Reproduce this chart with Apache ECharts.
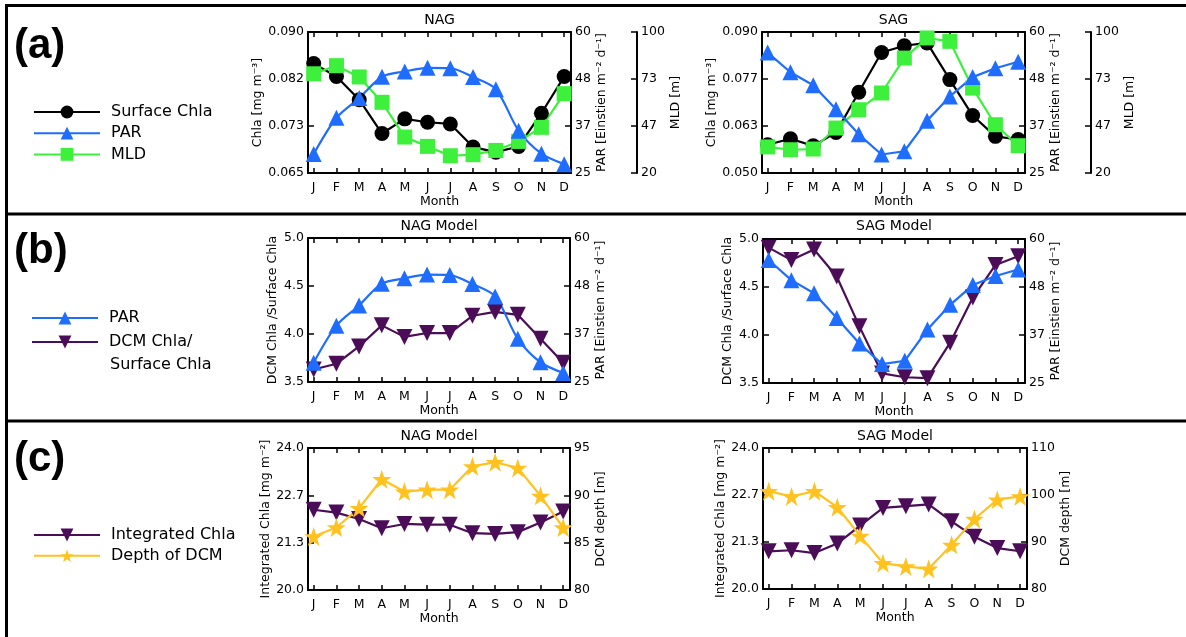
<!DOCTYPE html>
<html><head><meta charset="utf-8">
<script src="https://cdn.jsdelivr.net/npm/echarts@6/dist/echarts.min.js"></script>
<style>html,body{margin:0;padding:0;background:#fff;}#c{width:1186px;height:637px;}</style>
</head><body><div id="c"></div>
<script>
// ---------- data ----------
const months = ['J','F','M','A','M','J','J','A','S','O','N','D'];

const nagSurfaceChla = [0.0844,0.0821,0.0780,0.0720,0.0746,0.0740,0.0737,0.0696,0.0687,0.0697,0.0756,0.0821];
const nagPAR         = [29.7,38.7,43.6,48.9,50.2,51.1,51.0,48.8,45.8,35.5,29.8,27.2];
const nagMLD         = [76.3,80.9,74.5,60.1,40.4,35.1,29.8,30.4,32.8,37.9,45.9,65.0];
const sagSurfaceChla = [0.0580,0.0597,0.0577,0.0615,0.0729,0.0842,0.0861,0.0869,0.0765,0.0663,0.0604,0.0595];
const sagPAR         = [54.9,50.0,46.8,40.8,34.6,29.6,30.4,38.0,44.0,48.8,51.0,52.6];
const sagMLD         = [34.8,33.2,33.6,45.5,55.9,65.4,85.2,96.6,94.7,68.2,47.4,35.5];
const nagRatio       = [3.63,3.69,3.87,4.09,3.97,4.01,4.01,4.19,4.23,4.20,3.95,3.70];
const sagRatio       = [4.91,4.78,4.89,4.61,4.09,3.60,3.56,3.55,3.92,4.39,4.73,4.82];
const nagIntChla     = [22.26,22.18,22.00,21.74,21.86,21.84,21.84,21.60,21.58,21.63,21.90,22.21];
const nagDepth       = [85.65,86.6,88.65,91.7,90.4,90.6,90.6,93.06,93.5,92.9,89.95,86.6];
const sagIntChla     = [21.07,21.10,21.02,21.29,21.80,22.30,22.35,22.40,21.92,21.48,21.16,21.07];
const sagDepth       = [100.8,99.7,100.8,97.4,91.3,85.5,84.8,84.3,89.4,94.9,99.0,99.7];

// tick values (labels are these rounded)
const chlaNAGTicks  = [0.065, 0.07333, 0.08167, 0.090];
const chlaSAGTicks  = [0.050, 0.06333, 0.07667, 0.090];
const parTicks      = [25, 36.67, 48.33, 60];
const mldTicks      = [20, 46.67, 73.33, 100];
const ratioTicks    = [3.5, 4.0, 4.5, 5.0];
const intChlaTicks  = [20, 21.333, 22.667, 24];
const depthNAGTicks = [80, 85, 90, 95];
const depthSAGTicks = [80, 90, 100, 110];

// ---------- styles ----------
const FONT = 'DejaVu Sans';
const BLACK = '#000000', BLUE = '#1f6dff', GREEN = '#3cf03c', PURPLE = '#4b0c58', GOLD = '#ffc21f';
const STAR = 'path://M50,0L61.8,35.1L98.1,35.1L68.8,56.7L79.4,91L50,70L20.6,91L31.2,56.7L1.9,35.1L38.2,35.1Z';
const monthPos = months.map((m, i) => i + 1);
const TICKFONT = {color:BLACK, fontFamily:FONT, fontSize:12.5, fontWeight:500};

const grids = [
  {left:308, top:32,  width:263, height:141},
  {left:762, top:32,  width:263, height:141},
  {left:308, top:238, width:262, height:144},
  {left:763, top:239, width:262, height:144},
  {left:308, top:448, width:262, height:142},
  {left:763, top:448, width:264, height:141}
].map(g => Object.assign({show:false, containLabel:false, outerBoundsMode:'none'}, g));

const xAxis = [];
grids.forEach((g, gi) => {
  const common = {type:'value', gridIndex:gi, min:0.75, max:12.3, splitLine:{show:false},
    axisLine:{show:true, onZero:false, lineStyle:{color:BLACK, width:2}},
    axisTick:{show:true, inside:true, length:5, customValues:monthPos, lineStyle:{color:BLACK, width:1.5}}};
  xAxis.push(Object.assign({}, common, {position:'bottom',
    axisLabel:Object.assign({show:true, customValues:monthPos, formatter:v => months[Math.round(v) - 1], margin:8}, TICKFONT),
    name:'Month', nameLocation:'middle', nameGap:21,
    nameTextStyle:{color:BLACK, fontFamily:FONT, fontSize:12.5}}));
  xAxis.push(Object.assign({}, common, {position:'top', axisLabel:{show:false}}));
});

const yAxis = [];
function yAx(gi, pos, ticks, dec, name, nameGap, offset) {
  yAxis.push({type:'value', gridIndex:gi, position:pos, offset:offset || 0,
    min:ticks[0], max:ticks[ticks.length - 1], splitLine:{show:false},
    axisLine:{show:true, onZero:false, lineStyle:{color:BLACK, width:2}},
    axisTick:{show:true, inside:true, length:6, customValues:ticks, lineStyle:{color:BLACK, width:1.5}},
    axisLabel:Object.assign({show:true, customValues:ticks, formatter:v => Number(v).toFixed(dec), margin:4}, TICKFONT),
    name:name, nameLocation:'middle', nameRotate:90, nameGap:nameGap,
    nameTextStyle:{color:BLACK, fontFamily:FONT, fontSize:12.5}});
  return yAxis.length - 1;
}

const series = [];
function ser(name, gi, yi, data, color, symbol, size, extra) {
  series.push(Object.assign({
    type:'line', name:name, xAxisIndex:gi * 2, yAxisIndex:yi,
    data:data.map((v, i) => [i + 1, v]),
    symbol:symbol, symbolSize:size, showAllSymbol:true,
    lineStyle:{color:color, width:2.2}, itemStyle:{color:color, borderWidth:0},
    animation:false, silent:true
  }, extra || {}));
}

// (a) NAG
let y0 = yAx(0, 'left', chlaNAGTicks, 3, 'Chla [mg m⁻³]', 44);
let y1 = yAx(0, 'right', parTicks, 0, 'PAR [Einstien m⁻² d⁻¹]', 20);
let y2 = yAx(0, 'right', mldTicks, 0, 'MLD [m]', 30, 66);
ser('Surface Chla', 0, y0, nagSurfaceChla, BLACK, 'circle', 15);
ser('MLD', 0, y2, nagMLD, GREEN, 'rect', 15);
ser('PAR', 0, y1, nagPAR, BLUE, 'triangle', 16, {smooth:0.3});
// (a) SAG
y0 = yAx(1, 'left', chlaSAGTicks, 3, 'Chla [mg m⁻³]', 44);
y1 = yAx(1, 'right', parTicks, 0, 'PAR [Einstien m⁻² d⁻¹]', 20);
y2 = yAx(1, 'right', mldTicks, 0, 'MLD [m]', 30, 66);
ser('Surface Chla', 1, y0, sagSurfaceChla, BLACK, 'circle', 15);
ser('MLD', 1, y2, sagMLD, GREEN, 'rect', 15);
ser('PAR', 1, y1, sagPAR, BLUE, 'triangle', 16);
// (b) NAG
y0 = yAx(2, 'left', ratioTicks, 1, 'DCM Chla /Surface Chla', 29);
y1 = yAx(2, 'right', parTicks, 0, 'PAR [Einstien m⁻² d⁻¹]', 20);
ser('DCM Chla/Surface Chla', 2, y0, nagRatio, PURPLE, 'triangle', 16, {symbolRotate:180});
ser('PAR', 2, y1, nagPAR, BLUE, 'triangle', 16, {smooth:0.3});
// (b) SAG
y0 = yAx(3, 'left', ratioTicks, 1, 'DCM Chla /Surface Chla', 29);
y1 = yAx(3, 'right', parTicks, 0, 'PAR [Einstien m⁻² d⁻¹]', 20);
ser('DCM Chla/Surface Chla', 3, y0, sagRatio, PURPLE, 'triangle', 16, {symbolRotate:180});
ser('PAR', 3, y1, sagPAR, BLUE, 'triangle', 16);
// (c) NAG
y0 = yAx(4, 'left', intChlaTicks, 1, 'Integrated Chla [mg m⁻²]', 36);
y1 = yAx(4, 'right', depthNAGTicks, 0, 'DCM depth [m]', 21);
ser('Integrated Chla', 4, y0, nagIntChla, PURPLE, 'triangle', 16, {symbolRotate:180});
ser('Depth of DCM', 4, y1, nagDepth, GOLD, STAR, 19);
// (c) SAG
y0 = yAx(5, 'left', intChlaTicks, 1, 'Integrated Chla [mg m⁻²]', 36);
y1 = yAx(5, 'right', depthSAGTicks, 0, 'DCM depth [m]', 29);
ser('Integrated Chla', 5, y0, sagIntChla, PURPLE, 'triangle', 16, {symbolRotate:180});
ser('Depth of DCM', 5, y1, sagDepth, GOLD, STAR, 19);

const legText = {color:BLACK, fontFamily:FONT, fontSize:16, lineHeight:16, padding:[0,0,0,6]};
function leg(left, top, data, gap, fmt) {
  const l = {orient:'vertical', left:left, top:top, padding:0, itemGap:gap, itemWidth:66, itemHeight:16,
    selectedMode:false, data:data, textStyle:legText};
  if (fmt) l.formatter = fmt;
  return l;
}
const legend = [
  leg(33, 104, ['Surface Chla', 'PAR', 'MLD'], 5.2),
  leg(31, 310, ['PAR'], 5),
  leg(31, 334, ['DCM Chla/Surface Chla'], 5, () => 'DCM Chla/'),
  leg(33, 527, ['Integrated Chla', 'Depth of DCM'], 4.7)
];

function txt(x, y, s, size, weight, align) {
  return {type:'text', x:x, y:y, silent:true,
    style:{text:s, fill:BLACK, font:(weight || 'normal') + ' ' + size + 'px "' + (weight === 'bold' ? 'Liberation Sans' : FONT) + '"',
      textAlign:align || 'left', textVerticalAlign:'middle'}};
}
const graphic = [
  {type:'rect', silent:true, shape:{x:6.5, y:5.5, width:1200, height:700}, style:{fill:'none', stroke:BLACK, lineWidth:3}},
  {type:'line', silent:true, shape:{x1:6.5, y1:214, x2:1200, y2:214}, style:{stroke:BLACK, lineWidth:3}},
  {type:'line', silent:true, shape:{x1:6.5, y1:421, x2:1200, y2:421}, style:{stroke:BLACK, lineWidth:3}},
  txt(14, 46, '(a)', 42, 'bold'),
  txt(14, 251, '(b)', 42, 'bold'),
  txt(14, 459, '(c)', 42, 'bold'),
  txt(110, 365, 'Surface Chla', 16),
  txt(439.5, 20, 'NAG', 14, 'normal', 'center'),
  txt(893.5, 20, 'SAG', 14, 'normal', 'center'),
  txt(439, 226, 'NAG Model', 14, 'normal', 'center'),
  txt(894, 226, 'SAG Model', 14, 'normal', 'center'),
  txt(439, 436, 'NAG Model', 14, 'normal', 'center'),
  txt(895, 436, 'SAG Model', 14, 'normal', 'center')
];

const chart = echarts.init(document.getElementById('c'), null, {renderer:'canvas'});
chart.setOption({backgroundColor:'#ffffff', animation:false, grid:grids, xAxis:xAxis, yAxis:yAxis,
  series:series, legend:legend, graphic:graphic, tooltip:{show:false}});
</script></body></html>
